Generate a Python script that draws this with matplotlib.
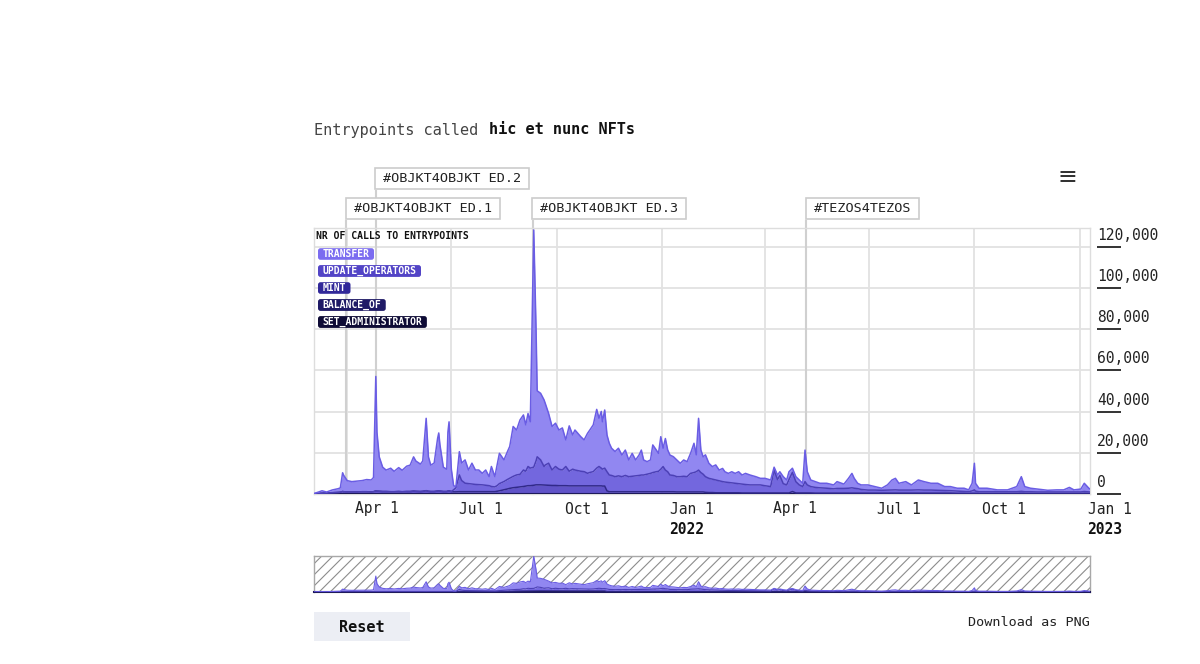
import matplotlib
matplotlib.use('Agg')
import matplotlib.pyplot as plt
import matplotlib.dates as mdates
import numpy as np
import pandas as pd
from matplotlib.transforms import blended_transform_factory, offset_copy, IdentityTransform
from matplotlib.patches import Rectangle, FancyBboxPatch

# ---------------- data (values in thousands of calls per day) ----------------
BASE_DATE = '2021-04-01'
day_offset = [
    -29, -25, -22, -18, -13, -8, -6, -4, -3, 0,
    4, 9, 13, 17, 21, 23, 25, 26, 28, 31,
    34, 38, 41, 45, 48, 52, 55, 58, 60, 64,
    66, 69, 71, 73, 76, 79, 80, 81, 84, 87,
    88, 89, 91, 93, 95, 98, 100, 103, 106, 109,
    112, 115, 118, 121, 124, 126, 129, 131, 133, 137,
    140, 142, 145, 148, 151, 154, 156, 158, 160, 163,
    165, 166, 169, 172, 173, 176, 179, 182, 185, 188,
    191, 194, 197, 199, 204, 207, 210, 212, 215, 218,
    220, 222, 223, 225, 227, 229, 231, 234, 237, 240,
    243, 246, 249, 252, 255, 257, 259, 262, 265, 267,
    270, 272, 274, 276, 278, 280, 282, 285, 288, 291,
    294, 297, 300, 303, 305, 307, 309, 311, 313, 316,
    319, 322, 325, 328, 330, 333, 336, 339, 342, 345,
    348, 352, 357, 361, 365, 370, 373, 376, 378, 381,
    384, 386, 389, 392, 395, 398, 400, 402, 405, 409,
    413, 419, 425, 428, 434, 438, 441, 443, 446, 449,
    455, 461, 467, 472, 476, 479, 482, 488, 493, 499,
    504, 510, 516, 522, 527, 533, 539, 543, 546, 548,
    549, 552, 559, 568, 577, 585, 589, 592, 597, 603,
    612, 620, 626, 631, 635, 641, 644, 648, 650,
]

transfer = [
    0.15, 0.7, 1.2, 0.5, 1.4, 1.8, 2.1, 9.1, 7.9, 5.5,
    5.0, 5.3, 5.4, 5.9, 5.8, 6.9, 55.5, 28.6, 16.7, 11.8,
    10.4, 11.4, 9.9, 11.6, 10.4, 12.3, 12.8, 16.6, 14.7, 13.3,
    14.7, 35.1, 16.7, 12.8, 13.8, 25.6, 28.1, 22.6, 11.8, 10.8,
    28.6, 33.5, 10.8, 2.0, 0.5, 11.3, 8.5, 11.3, 6.6, 10.1,
    7.0, 7.1, 5.6, 7.4, 4.4, 9.7, 5.0, 10.0, 14.7, 10.5,
    13.5, 15.4, 24.2, 21.8, 26.4, 26.7, 22.5, 25.7, 22.5, 115.0,
    64.0, 32.0, 32.3, 32.3, 30.0, 24.1, 21.1, 21.0, 19.0, 20.4,
    12.9, 22.0, 16.6, 19.4, 16.8, 15.4, 19.4, 20.6, 22.7, 28.5,
    23.4, 27.5, 23.0, 28.2, 17.8, 15.4, 13.2, 12.2, 13.4, 10.5,
    12.3, 8.1, 11.1, 7.7, 9.9, 12.1, 7.3, 6.1, 6.5, 13.4,
    10.6, 8.7, 15.8, 8.9, 15.3, 10.6, 9.7, 9.1, 8.1, 6.5,
    7.9, 7.3, 9.7, 14.2, 8.2, 25.1, 11.0, 8.4, 10.6, 7.3,
    6.1, 7.3, 5.2, 6.4, 5.0, 4.4, 5.4, 4.8, 5.8, 4.4,
    5.4, 4.8, 4.0, 3.2, 3.6, 3.2, 1.4, 2.2, 1.8, 3.4,
    2.4, 3.8, 2.0, 2.4, 2.4, 1.6, 15.3, 6.4, 3.2, 2.8,
    2.2, 2.4, 1.9, 3.3, 2.1, 4.8, 7.0, 4.8, 2.6, 2.2,
    2.5, 1.7, 1.0, 2.5, 4.8, 5.6, 3.3, 4.1, 2.5, 4.8,
    4.1, 3.3, 3.4, 1.9, 2.0, 1.4, 1.6, 0.9, 3.7, 12.9,
    3.8, 1.7, 1.7, 0.9, 0.9, 2.5, 7.1, 2.5, 1.7, 1.4,
    0.8, 1.0, 1.0, 2.2, 1.0, 1.4, 4.0, 1.8, 1.0,
]

update_operators = [
    0, 0, 0, 0, 0, 0, 0, 0, 0, 0,
    0, 0, 0, 0, 0, 0, 0, 0, 0, 0,
    0, 0, 0, 0, 0, 0, 0, 0, 0, 0,
    0, 0, 0, 0, 0, 0, 0, 0, 0, 0,
    0, 0, 0, 1.0, 2.0, 8.1, 5.4, 4.1, 3.9, 3.7,
    3.5, 3.4, 3.3, 3.1, 2.9, 2.5, 2.3, 2.7, 3.5, 4.0,
    4.6, 4.9, 5.5, 6.0, 6.1, 8.0, 7.2, 9.3, 8.5, 8.8,
    11.6, 13.6, 12.1, 9.0, 9.7, 10.7, 7.5, 9.2, 8.0, 7.6,
    9.3, 7.1, 8.1, 7.7, 7.1, 6.9, 6.1, 6.5, 6.9, 8.6,
    9.4, 8.6, 8.2, 8.7, 9.3, 8.1, 7.9, 7.3, 7.7, 7.3,
    7.9, 7.3, 7.5, 7.7, 7.9, 8.1, 8.1, 8.5, 8.9, 9.3,
    9.7, 9.9, 10.9, 12.2, 10.5, 9.7, 8.1, 7.9, 7.4, 7.4,
    7.6, 7.4, 9.0, 9.4, 9.8, 10.6, 9.4, 8.6, 7.6, 6.9,
    6.5, 6.2, 5.8, 5.4, 5.2, 5.0, 4.8, 4.6, 4.4, 4.3,
    4.1, 3.9, 3.9, 3.9, 3.5, 3.1, 11.1, 6.5, 8.5, 4.5,
    3.9, 6.5, 9.3, 5.5, 3.9, 3.1, 5.5, 3.9, 3.1, 2.8,
    2.6, 2.4, 2.1, 2.3, 2.3, 2.4, 2.6, 2.4, 2.2, 1.8,
    1.5, 1.5, 1.4, 1.5, 1.6, 1.6, 1.5, 1.5, 1.5, 1.6,
    1.5, 1.5, 1.4, 1.3, 1.2, 1.1, 0.9, 0.8, 1.2, 1.7,
    1.1, 0.8, 0.8, 0.8, 0.8, 0.8, 1.0, 0.8, 0.8, 0.7,
    0.7, 0.7, 0.7, 0.7, 0.7, 0.7, 0.9, 0.7, 0.7,
]

mint = [
    0.05, 0.2, 0.3, 0.4, 0.5, 0.7, 0.8, 1.1, 1.0, 0.9,
    0.9, 0.9, 1.0, 1.0, 0.9, 1.0, 1.4, 1.3, 1.2, 1.1,
    1.1, 1.0, 1.0, 1.1, 1.0, 1.1, 1.1, 1.3, 1.2, 1.1,
    1.2, 1.5, 1.2, 1.1, 1.1, 1.3, 1.4, 1.3, 1.1, 1.1,
    1.3, 1.4, 1.1, 0.9, 0.9, 1.0, 1.0, 1.0, 1.0, 1.0,
    1.0, 1.0, 1.0, 1.0, 1.0, 1.0, 1.0, 1.2, 1.4, 1.9,
    2.3, 2.6, 2.9, 3.1, 3.3, 3.5, 3.7, 3.9, 3.9, 4.1,
    4.3, 4.3, 4.3, 4.2, 4.2, 4.1, 4.0, 4.0, 3.9, 3.9,
    3.9, 3.8, 3.8, 3.8, 3.8, 3.8, 3.8, 3.8, 3.8, 3.8,
    3.8, 3.8, 3.7, 3.7, 1.4, 1.0, 1.0, 1.0, 1.0, 1.0,
    1.0, 1.0, 1.0, 1.0, 1.0, 1.0, 1.0, 1.0, 1.0, 1.0,
    1.0, 1.0, 1.0, 1.0, 1.0, 1.0, 1.0, 1.0, 0.9, 0.9,
    0.9, 0.9, 0.9, 0.9, 0.9, 0.9, 0.9, 0.9, 0.7, 0.6,
    0.6, 0.5, 0.5, 0.5, 0.5, 0.5, 0.5, 0.5, 0.5, 0.4,
    0.4, 0.4, 0.4, 0.4, 0.4, 0.4, 0.4, 0.4, 0.4, 0.4,
    0.4, 0.4, 1.1, 0.4, 0.4, 0.4, 0.4, 0.4, 0.4, 0.3,
    0.3, 0.3, 0.3, 0.3, 0.3, 0.3, 0.3, 0.3, 0.3, 0.3,
    0.3, 0.3, 0.3, 0.3, 0.3, 0.3, 0.3, 0.3, 0.3, 0.3,
    0.3, 0.3, 0.3, 0.3, 0.3, 0.2, 0.2, 0.2, 0.2, 0.2,
    0.2, 0.2, 0.2, 0.2, 0.2, 0.2, 0.2, 0.2, 0.2, 0.2,
    0.2, 0.2, 0.2, 0.2, 0.2, 0.2, 0.2, 0.2, 0.2,
]

balance_of = [0.05] * 7 + [0.08] * 36 + [0.12] * 51 + [0.08] * 115
set_administrator = [0.01] * 7 + [0.02] * 202

series_names = ['TRANSFER', 'UPDATE_OPERATORS', 'MINT', 'BALANCE_OF', 'SET_ADMINISTRATOR']
legend_colors = ['#7b6cf0', '#5244c6', '#312899', '#1f1a66', '#0e0b35']
fill_colors = ['#9187f1', '#7367de', '#6053c8', '#2c2575', '#15113f']
line_colors = ['#6a5de4', '#4c40b6', '#31298a', '#1e1a5c', '#0d0b30']

annotation_labels = ['#OBJKT4OBJKT ED.1', '#OBJKT4OBJKT ED.2', '#OBJKT4OBJKT ED.3', '#TEZOS4TEZOS']
annotation_dates = ['2021-03-31', '2021-04-26', '2021-09-10', '2022-05-07']
annotation_rows = [0, 1, 0, 0]

x_tick_dates = ['2021-04-01', '2021-07-01', '2021-10-01', '2022-01-01',
                '2022-04-01', '2022-07-01', '2022-10-01', '2023-01-01']
x_tick_labels = ['Apr 1', 'Jul 1', 'Oct 1', 'Jan 1', 'Apr 1', 'Jul 1', 'Oct 1', 'Jan 1']
x_year_labels = ['', '', '', '2022', '', '', '', '2023']
y_ticks = [0, 20000, 40000, 60000, 80000, 100000, 120000]
y_tick_labels = ['0', '20,000', '40,000', '60,000', '80,000', '100,000', '120,000']
x_range = ['2021-03-03', '2023-01-10']
y_max = 129000

# ---------------- figure ----------------
plt.rcParams['font.family'] = ['DejaVu Sans Mono', 'DejaVu Sans']
plt.rcParams['hatch.color'] = '#8c8c8c'
plt.rcParams['hatch.linewidth'] = 0.8

W, H = 1200, 664
fig = plt.figure(figsize=(W / 100, H / 100), dpi=100)
fig.patch.set_facecolor('white')
renderer = fig.canvas.get_renderer()
ident = IdentityTransform()

def fx(px):
    return px / W

def fy(py):
    return 1 - py / H

ax = fig.add_axes([fx(314), fy(494), fx(776), 266 / H])
nav = fig.add_axes([fx(314), fy(592), fx(776), 36 / H])

dates = mdates.date2num((pd.Timestamp(BASE_DATE) + pd.to_timedelta(day_offset, unit='D')).values)
xlim = mdates.date2num(pd.to_datetime(x_range).values)

layers = [set_administrator, balance_of, mint, update_operators, transfer]
layer_fill = fill_colors[::-1]
layer_line = line_colors[::-1]
cum = np.cumsum(np.array(layers, dtype=float) * 1000, axis=0)

def draw_stack(a, lw):
    prev = np.zeros(len(dates))
    for i in range(len(layers)):
        a.fill_between(dates, prev, cum[i], color=layer_fill[i], lw=0, zorder=2 + i * 0.01)
        prev = cum[i]
    for i in range(len(layers)):
        a.plot(dates, cum[i], color=layer_line[i], lw=lw, zorder=3 + i * 0.01)

draw_stack(ax, 1.1)
ax.set_xlim(*xlim)
ax.set_ylim(0, y_max)
tick_nums = mdates.date2num(pd.to_datetime(x_tick_dates).values)
ax.set_xticks(tick_nums)
ax.set_yticks(y_ticks)
ax.grid(True, color='#e2e2e2', lw=1.3)
ax.set_axisbelow(True)
ax.tick_params(length=0, labelbottom=False, labelleft=False)
for s in ax.spines.values():
    s.set_color('#dddddd')
    s.set_linewidth(1.0)

# y labels on right with underline ticks
ty = blended_transform_factory(ax.transAxes, ax.transData)
for v, lab in zip(y_ticks, y_tick_labels):
    ax.text(1 + 7 / 776, v, lab, transform=offset_copy(ty, fig=fig, x=0, y=4, units='dots'),
            ha='left', va='bottom', fontsize=10.5, color='#222222', clip_on=False)
    ax.plot([1 + 7 / 776, 1 + 31 / 776], [v, v], transform=ty, color='#333333', lw=1.4,
            clip_on=False, solid_capstyle='butt')

# x labels
tx = blended_transform_factory(ax.transData, ax.transAxes)
for d, lab, yl in zip(tick_nums, x_tick_labels, x_year_labels):
    ax.text(d, 0, lab, transform=offset_copy(tx, fig=fig, x=8, y=-15, units='dots'),
            ha='left', va='center', fontsize=10.5, color='#222222', clip_on=False)
    if yl:
        ax.text(d, 0, yl, transform=offset_copy(tx, fig=fig, x=7, y=-35, units='dots'),
                ha='left', va='center', fontsize=10.5, fontweight='bold', color='#111111',
                clip_on=False)

def boxed(x_left, y_center, s, fs, weight, tc, fc, ec, padx, pady, style, z, lw=0):
    t = fig.text(x_left + padx, y_center, s, transform=ident, ha='left', va='center',
                 fontsize=fs, fontweight=weight, color=tc, zorder=z)
    bb = t.get_window_extent(renderer=renderer)
    p = FancyBboxPatch((bb.x0 - padx, bb.y0 - pady), bb.width + 2 * padx, bb.height + 2 * pady,
                       boxstyle=style, transform=ident, facecolor=fc, edgecolor=ec, lw=lw,
                       zorder=z - 0.5)
    fig.patches.append(p)
    return t

# annotations (plot lines with labels)
row_center = [208.5, 178.5]
row_bottom = [221, 191]
row_z = [6, 5]
ann_nums = mdates.date2num(pd.to_datetime(annotation_dates).values)
for d, lab, r in zip(ann_nums, annotation_labels, annotation_rows):
    top_frac = (494 - row_bottom[r]) / 266
    ax.plot([d, d], [0, top_frac], transform=tx, color='#d0d0d0', lw=1.5, clip_on=False, zorder=1.5)
    xd = ax.transData.transform((d, 0))[0]
    boxed(xd - 0.5, H - row_center[r], lab, 9.7, 'normal', '#222222', 'white', '#cccccc',
          8, 4.3, 'square,pad=0', row_z[r], lw=1.2)

# legend
fig.text(fx(316), fy(236), 'NR OF CALLS TO ENTRYPOINTS', fontsize=7, fontweight='bold',
         color='#111111', ha='left', va='center', zorder=6)
legend_rows = [254, 271, 288, 305, 322]
for name, col, yr in zip(series_names, legend_colors, legend_rows):
    boxed(318, H - yr, name, 7, 'bold', 'white', col, 'none', 4.5, 0.8,
          'round,pad=0,rounding_size=2.5', 8)

# title
t1 = fig.text(fx(314), fy(130), 'Entrypoints called ', fontsize=11, color='#444444',
              ha='left', va='center')
bb1 = t1.get_window_extent(renderer=renderer)
fig.text(bb1.x1 / W + 2 / W, fy(130), 'hic et nunc NFTs', fontsize=11, fontweight='bold',
         color='#111111', ha='left', va='center')

# menu icon
fig.text(fx(1067), fy(177), '\u2261', fontsize=17, color='#333333', ha='center', va='center',
         family='DejaVu Sans')

# navigator
nav.add_patch(Rectangle((0, 0), 1, 1, transform=nav.transAxes, facecolor='white',
                        edgecolor='#8c8c8c', hatch='///', lw=0, zorder=0))
draw_stack(nav, 0.8)
nav.set_xlim(*xlim)
nav.set_ylim(0, y_max)
nav.set_xticks([])
nav.set_yticks([])
for s in nav.spines.values():
    s.set_color('#a8a8a8')
    s.set_linewidth(1.0)
nav.spines['bottom'].set_color('#1e1a5c')
nav.spines['bottom'].set_linewidth(1.5)

# reset button and download link
fig.patches.append(Rectangle((314, H - 641), 96, 29, transform=ident, facecolor='#eceef4',
                             edgecolor='none', zorder=1))
fig.text(fx(362), fy(627), 'Reset', fontsize=11, fontweight='bold', color='#111111',
         ha='center', va='center', zorder=2)
fig.text(fx(1090), fy(623), 'Download as PNG', fontsize=9.7, color='#222222',
         ha='right', va='center')

fig.savefig('out.png', dpi=100, facecolor='white')
